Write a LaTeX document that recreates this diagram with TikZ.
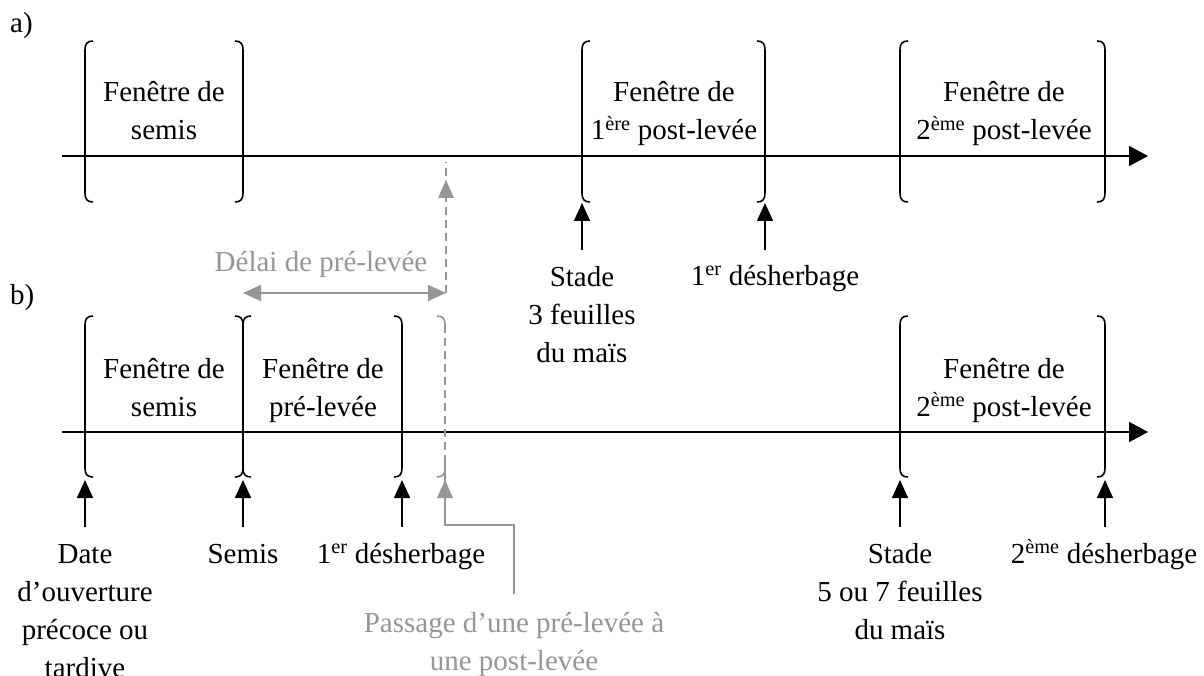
\documentclass[tikz,border=0pt]{standalone}
\usepackage{fontspec}
\setmainfont{Liberation Serif}
\usetikzlibrary{arrows.meta}
\definecolor{gr}{RGB}{150,150,150}
\begin{document}
\begin{tikzpicture}[x=1pt,y=-1pt,
  txt/.style={font=\fontsize{29}{38}\selectfont, align=center, inner sep=0pt, anchor=base},
  gtxt/.style={txt, text=gr},
  brk/.style={line width=1.6pt, black},
  axis/.style={line width=1.6pt, -{Triangle[width=20pt,length=19pt]}},
  evt/.style={line width=1.6pt, -{Triangle[width=16pt,length=18pt]}},
  gdash/.style={line width=1.6pt, draw=gr, dash pattern=on 8pt off 5pt},
  lbrack/.pic={\draw[brk] (8,0) .. controls (2,0) and (0,3) .. (0,9) -- (0,152) .. controls (0,158) and (2,161) .. (8,161);},
  rbrack/.pic={\draw[brk] (-8,0) .. controls (-2,0) and (0,3) .. (0,9) -- (0,152) .. controls (0,158) and (-2,161) .. (-8,161);},
  bbrack/.pic={\draw[brk] (-8,0) .. controls (-2,0) and (0,3) .. (0,9) .. controls (0,3) and (2,0) .. (8,0);
               \draw[brk] (0,9) -- (0,152);
               \draw[brk] (-8,161) .. controls (-2,161) and (0,158) .. (0,152) .. controls (0,158) and (2,161) .. (8,161);},
]
\useasboundingbox (0,0) rectangle (1204,676);

% ---------- a) ----------
\node[txt, anchor=base west] (la) at (10,33) {a)};
\coordinate (a0) at (62,156);
\coordinate (a1) at (1148,156);
\draw[axis] (a0) -- (a1);

\pic at (85,41) {lbrack};
\pic at (243,41) {rbrack};
\pic at (582,41) {lbrack};
\pic at (765,41) {rbrack};
\pic at (900,41) {lbrack};
\pic at (1105,41) {rbrack};

% multi-line nodes: anchor=base is the baseline of the last line
\node[txt] (wa1) at (164,140) {Fenêtre de\\semis};
\node[txt] (wa2) at (674,140) {Fenêtre de\\1\textsuperscript{ère} post-levée};
\node[txt] (wa3) at (1004,140) {Fenêtre de\\2\textsuperscript{ème} post-levée};

\node[txt] (sa) at (582,362) {Stade\\3 feuilles\\du maïs};
\node[txt] (da) at (775,285) {1\textsuperscript{er} désherbage};
\coordinate (sat) at (582,250);
\coordinate (sah) at (582,203);
\coordinate (dat) at (765,250);
\coordinate (dah) at (765,203);
\draw[evt] (sat) -- (sah);
\draw[evt] (dat) -- (dah);

% Délai de pré-levée
\node[gtxt] (delai) at (321,272) {Délai de pré-levée};
\coordinate (dl) at (243,293);
\coordinate (dr) at (446,293);
\coordinate (dtop) at (446,180);
\draw[line width=1.6pt, draw=gr, {Triangle[width=16pt,length=18pt]}-{Triangle[width=16pt,length=18pt]}, gr] (dl) -- (dr);
\draw[gdash] (dr) -- ([yshift=18pt]dtop);
\fill[gr] (dtop) -- ++(-8,18) -- ++(16,0) -- cycle;

% ---------- b) ----------
\node[txt, anchor=base west] (lb) at (10,304) {b)};
\coordinate (b0) at (62,432);
\coordinate (b1) at (1148,432);
\draw[axis] (b0) -- (b1);

\pic at (85,316) {lbrack};
\pic at (243,316) {bbrack};
\pic at (402,316) {rbrack};
\pic at (900,316) {lbrack};
\pic at (1105,316) {rbrack};
% grey dashed bracket
\draw[gdash] (445,325) -- (445,470);
\draw[line width=1.6pt, gr] (437,316) .. controls (443,316) and (445,319) .. (445,325);
\draw[line width=1.6pt, gr] (437,477) .. controls (443,477) and (445,474) .. (445,468);

\node[txt] (wb1) at (164,416) {Fenêtre de\\semis};
\node[txt] (wb2) at (323,416) {Fenêtre de\\pré-levée};
\node[txt] (wb3) at (1004,416) {Fenêtre de\\2\textsuperscript{ème} post-levée};

\foreach \x/\n in {85/e1,243/e2,402/e3,900/e4,1105/e5}{
  \coordinate (\n t) at (\x,527);
  \coordinate (\n h) at (\x,480);
  \draw[evt] (\n t) -- (\n h);
}
\node[txt] (tb1) at (85,677) {Date\\d’ouverture\\précoce ou\\tardive};
\node[txt] (tb2) at (243,563) {Semis};
\node[txt] (tb3) at (401,563) {1\textsuperscript{er} désherbage};
\node[txt] (tb4) at (900,639) {Stade\\5 ou 7 feuilles\\du maïs};
\node[txt] (tb5) at (1104,563) {2\textsuperscript{ème} désherbage};

% passage
\coordinate (ph) at (445,480);
\coordinate (p1) at (445,525);
\coordinate (p2) at (514,525);
\coordinate (p3) at (514,594);
\draw[line width=1.6pt, gr] (p3) -- (p2) -- (p1) -- ([yshift=18pt]ph);
\fill[gr] (ph) -- ++(-8,18) -- ++(16,0) -- cycle;
\node[gtxt] (pass) at (514,670) {Passage d’une pré-levée à\\une post-levée};
\end{tikzpicture}
\end{document}
